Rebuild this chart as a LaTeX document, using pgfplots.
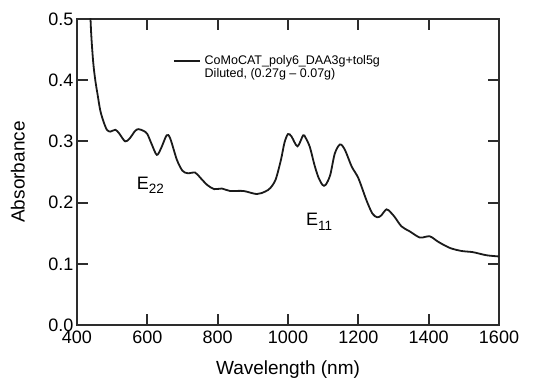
\documentclass[border=0pt]{standalone}
\usepackage{fontspec}
\setmainfont{Liberation Sans}
\usepackage{pgfplots}
\pgfplotsset{compat=1.18}
\definecolor{curve}{HTML}{1A1A1A}
\definecolor{tickc}{RGB}{45,45,45}
\begin{document}
\begin{tikzpicture}
\begin{axis}[
  name=ax,
  scale only axis,
  width=422pt, height=306pt,
  xmin=400, xmax=1600, ymin=0, ymax=0.5,
  xtick={400,600,...,1600},
  ytick={0,0.1,0.2,0.3,0.4,0.5},
  tickwidth=11pt,
  tick align=inside,
  xtick pos=both, ytick pos=both,
  axis line style={tickc, line width=1.3pt},
  tick style={draw=tickc, line width=2pt},
  xticklabel style={/pgf/number format/1000 sep={}, font=\fontsize{18}{18}\selectfont, yshift=-2pt},
  yticklabel style={/pgf/number format/fixed, /pgf/number format/fixed zerofill, /pgf/number format/precision=1, font=\fontsize{18}{18}\selectfont},
  scaled y ticks=false,
  xlabel={Wavelength (nm)},
  ylabel={Absorbance},
  every axis x label/.style={at={(axis description cs:0.5,0)}, anchor=north, yshift=-32pt, font=\fontsize{19}{19}\selectfont},
  every axis y label/.style={at={(axis description cs:-0.14,0.5)}, rotate=90, anchor=center, font=\fontsize{19}{19}\selectfont},
  legend cell align=left,
  legend style={draw=none, fill=none, at={(axis description cs:0.2268,0.885)}, anchor=north west, inner sep=0pt, row sep=0pt, column sep=3pt, font=\fontsize{12.5}{12.5}\selectfont, nodes={inner sep=1pt}},
  legend image code/.code={\draw[#1] (0pt,0pt) -- (26pt,0pt);},
  /pgf/number format/assume math mode=true,
]
\addplot[curve, line width=1.8pt, smooth, tension=0.5] coordinates {
(435,0.55) (440,0.48) (446,0.43) (452,0.40) (459,0.375) (466,0.351) (475,0.333) (485,0.319) (495,0.316) (509,0.319) (520,0.313) (537,0.300) (550,0.305) (565,0.317) (575,0.320) (590,0.317) (600,0.312) (612,0.296) (627,0.278) (640,0.290) (655,0.310) (665,0.305) (684,0.270) (700,0.252) (715,0.248) (736,0.249) (750,0.241) (770,0.229) (790,0.222) (812,0.223) (835,0.219) (873,0.219) (911,0.214) (935,0.218) (950,0.224) (965,0.238) (980,0.270) (990,0.298) (1000,0.312) (1010,0.308) (1027,0.292) (1043,0.310) (1050,0.306) (1062,0.291) (1075,0.262) (1086,0.242) (1098,0.229) (1107,0.229) (1120,0.245) (1133,0.280) (1148,0.295) (1162,0.286) (1181,0.259) (1200,0.240) (1223,0.204) (1240,0.182) (1254,0.176) (1265,0.179) (1280,0.189) (1292,0.184) (1304,0.176) (1323,0.161) (1346,0.153) (1374,0.143) (1390,0.144) (1403,0.145) (1415,0.141) (1427,0.136) (1460,0.126) (1493,0.121) (1526,0.119) (1564,0.114) (1600,0.112)
};
\addlegendentry{CoMoCAT\_poly6\_DAA3g+tol5g}
\addlegendimage{empty legend}
\addlegendentry{Diluted, (0.27g -- 0.07g)}
\node[anchor=base west, inner sep=0pt, font=\fontsize{18}{18}\selectfont] at (axis cs:570,0.2217) {E\raisebox{-4.5pt}{\fontsize{13.5}{13.5}\selectfont 22}};
\node[anchor=base west, inner sep=0pt, font=\fontsize{18}{18}\selectfont] at (axis cs:1051,0.1618) {E\raisebox{-4.5pt}{\fontsize{13.5}{13.5}\selectfont 11}};
\end{axis}
\path ([xshift=-77pt,yshift=-58pt]ax.south west) rectangle ([xshift=43pt,yshift=19pt]ax.north east);
\end{tikzpicture}
\end{document}
